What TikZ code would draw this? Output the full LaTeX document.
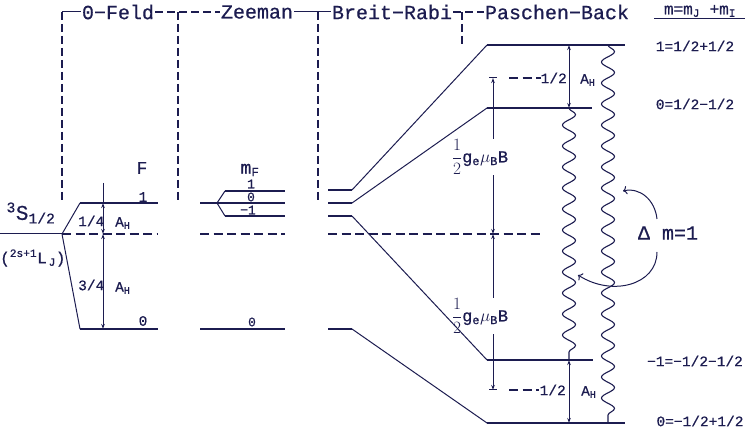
\documentclass[tikz,border=0pt]{standalone}
\usepackage{fontspec}
\setmainfont{Liberation Mono}[FakeBold=0.6]
\usetikzlibrary{arrows.meta,decorations.pathmorphing}
\definecolor{ink}{RGB}{28,28,80}
\begin{document}
\begin{tikzpicture}[x=1pt,y=-1pt,color=ink,
  lvl/.style={line width=1.8pt},
  thinl/.style={line width=1pt},
  dsh/.style={line width=1.1pt,dash pattern=on 9pt off 4.5pt},
  vd/.style={line width=1.1pt,dash pattern=on 8pt off 4pt},
  tipp/.style={line width=1pt,{Stealth[open,length=5pt,width=3.5pt]}-{Stealth[open,length=5pt,width=3.5pt]}},
  hdr/.style={font=\fontsize{20}{20}\selectfont, inner sep=1pt},
  sm/.style={font=\fontsize{14.5}{15}\selectfont, inner sep=1pt},
  xs/.style={font=\fontsize{13}{13}\selectfont, inner sep=0.5pt},
  gl/.style={fill=white,inner sep=0.5pt,font=\fontsize{17}{17}\selectfont},
  wave/.style={line width=1.1pt,decorate,decoration={snake,amplitude=6.5pt,segment length=21pt}}]
\useasboundingbox (0,0) rectangle (750,430);

% header
\node[hdr] (h0) at (118,12) {0−Feld};
\node[hdr] (hz) at (257,12) {Zeeman};
\node[hdr] (hb) at (392,12) {Breit−Rabi};
\node[hdr] (hp) at (557,12) {Paschen−Back};
\coordinate (c0) at (62,12);
\coordinate (c1) at (178,12);
\coordinate (c2) at (318,12);
\coordinate (c3) at (462,12);
\draw[thinl] (c0) -- (h0.west);
\draw[vd] (h0.east) -- (hz.west);
\draw[thinl] (hz.east) -- (hb.west);
\draw[vd] (hb.east) -- (hp.west);
\draw[vd] (c0) -- (62,203);
\draw[vd] (c1) -- (178,203);
\draw[vd] (c2) -- (318,203);
\draw[vd] (c3) -- (462,44);

\node[font=\fontsize{16}{16}\selectfont, inner sep=0pt] (mm) at (700,11) {m=m\textsubscript{J} +m\textsubscript{I}};
\draw[thinl] (654,19) -- (745,19);

% right labels
\node[sm] (r1) at (695,46) {1=1/2+1/2};
\node[sm] (r2) at (695,104) {0=1/2−1/2};
\node[sm] (r3) at (695,361) {−1=−1/2−1/2};
\node[sm] (r4) at (700,421) {0=−1/2+1/2};

% left: zero field
\node[font=\fontsize{21}{21}\selectfont, inner sep=0pt] (s3) at (31,213) {\textsuperscript{3}S\textsubscript{1/2}};
\node[font=\fontsize{16}{16}\selectfont, inner sep=0pt, anchor=west] (lj) at (0,258) {(\textsuperscript{2s+1}L\textsubscript{\,J})};
\coordinate (j0) at (62,234);
\draw[thinl] (0,234) -- (j0);
\draw[thinl] (j0) -- (80,203);
\draw[thinl] (j0) -- (80,329);
\draw[lvl] (80,203) -- (158,203);
\draw[lvl] (80,329) -- (158,329);
\draw[dsh] (j0) -- (158,234);
\node[font=\fontsize{18}{18}\selectfont] (F) at (142,168) {F};
\node[sm] (f1) at (143,197) {1};
\node[sm] (f0) at (143,321) {0};
\draw[thinl] (103,183) -- (103,203);
\draw[tipp] (103,203) -- (103,234);
\draw[tipp] (103,234) -- (103,329);
\node[sm,anchor=west] (q1) at (77,221) {1/4};
\node[sm,anchor=west] (a1) at (114,223) {A\textsubscript{H}};
\node[sm,anchor=west] (q3) at (77,285) {3/4};
\node[sm,anchor=west] (a3) at (114,288) {A\textsubscript{H}};

% Zeeman
\node[font=\fontsize{18}{18}\selectfont] (mf) at (250,170) {m\textsubscript{F}};
\draw[lvl] (200,203) -- (285,203);
\draw[thinl] (217,203) -- (225,191);
\draw[thinl] (217,203) -- (225,216);
\draw[lvl] (225,191) -- (285,191);
\draw[lvl] (225,216) -- (285,216);
\draw[dsh] (200,234) -- (285,234);
\draw[lvl] (200,329) -- (285,329);
\node[xs] (z1) at (251,184) {1};
\node[xs] (z0) at (251,197) {0};
\node[xs] (zm) at (248,210) {−1};
\node[xs] (zz) at (252,322) {0};

% Breit-Rabi
\draw[lvl] (328,190) -- (352,190);
\draw[lvl] (328,203) -- (352,203);
\draw[lvl] (328,216) -- (352,216);
\draw[lvl] (328,329) -- (352,329);
\draw[dsh] (328,234) -- (540,234);

% Paschen-Back
\draw[tipp] (493,78) -- (493,234);
\draw[tipp] (493,234) -- (493,390);
\draw[thinl] (489,78) -- (497,78);
\draw[thinl] (489,390) -- (497,390);
\node[gl] (gb1) at (480,157) {$\displaystyle\frac{1}{2}$g\textsubscript{e}$\mu$\textsubscript{B}B};
\node[gl] (gb2) at (480,316) {$\displaystyle\frac{1}{2}$g\textsubscript{e}$\mu$\textsubscript{B}B};

\draw[thinl] (352,190) -- (487,45);
\draw[thinl] (352,203) -- (487,108);
\draw[thinl] (352,216) -- (487,360);
\draw[thinl] (352,329) -- (487,423);
\draw[lvl] (487,45) -- (625,45);
\draw[lvl] (487,108) -- (592,108);
\draw[lvl] (487,360) -- (593,360);
\draw[lvl] (487,423) -- (625,423);

\draw[tipp] (569,45) -- (569,108);
\draw[tipp] (569,360) -- (569,423);
\draw[dsh] (509,78) -- (541,78);
\draw[dsh] (509,390) -- (539,390);
\node[sm,anchor=east] (h1) at (568,78) {1/2};
\node[sm,anchor=west] (ah1) at (579,80) {A\textsubscript{H}};
\node[sm,anchor=east] (h2) at (567,390) {1/2};
\node[sm,anchor=west] (ah2) at (580,392) {A\textsubscript{H}};

\draw[wave] (569,108) -- (569,360);
\draw[wave] (608,45) -- (608,423);

\node[font=\fontsize{20}{20}\selectfont, inner sep=1pt] (dm) at (668,233) {Δ m=1};
\draw[thinl,-{To[length=4pt]}] (657,219) .. controls (655,200) and (640,187) .. (623,191);
\draw[thinl,-{To[length=4pt]}] (657,252) .. controls (657,285) and (612,297) .. (578,275);
\end{tikzpicture}
\end{document}
